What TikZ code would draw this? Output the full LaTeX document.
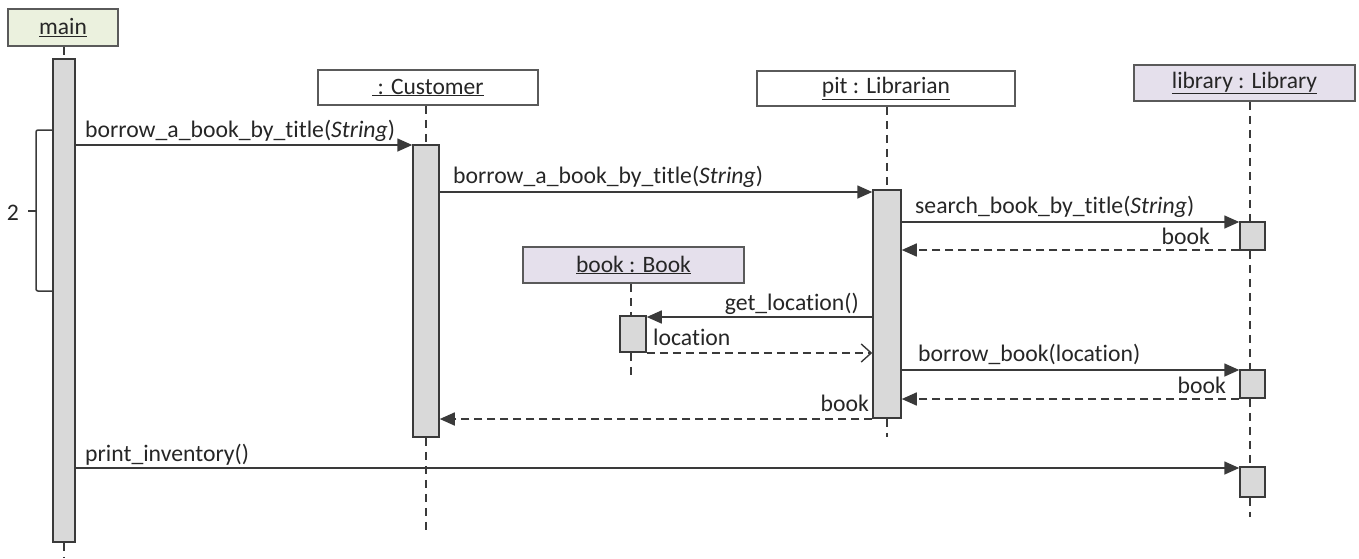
\documentclass[tikz,border=0pt]{standalone}
\usepackage{fontspec}
\setmainfont{Carlito}[Ligatures={NoCommon}]
\usetikzlibrary{arrows.meta}
\definecolor{linec}{HTML}{3A3A3A}
\definecolor{hdrc}{HTML}{5A5A5A}
\definecolor{actc}{HTML}{D9D9D9}
\definecolor{greenc}{HTML}{EBF1DE}
\definecolor{lavc}{HTML}{E5E0EC}
\definecolor{txtc}{HTML}{262626}
\begin{document}
\begin{tikzpicture}[x=1pt,y=-1pt,
  hdr/.style={draw=hdrc, line width=1.5pt, inner sep=0pt, text=txtc, font=\fontsize{23.5}{27}\selectfont},
  act/.style={draw=linec, fill=actc, line width=1.5pt, inner sep=0pt},
  life/.style={draw=linec, line width=1.5pt, dash pattern=on 8pt off 6pt},
  msg/.style={draw=linec, line width=1.6pt, -{Triangle[length=15pt,width=13pt]}},
  ret/.style={msg, dash pattern=on 8pt off 5pt},
  oret/.style={draw=linec, line width=1.6pt, dash pattern=on 8pt off 5pt, -{Straight Barb[length=10pt,width=18pt,line width=1.4pt]}},
  lbl/.style={inner sep=0pt, text=txtc, font=\fontsize{23.7}{27}\selectfont}
]
\useasboundingbox (0,0) rectangle (1359,558);

% headers
\node[hdr, fill=greenc, minimum width=110pt, minimum height=37pt] (hmain) at (63,27.5) {\underline{main}};
\node[hdr, fill=white, minimum width=220pt, minimum height=35pt] (hcust) at (428,87.5) {\underline{\ : Customer}};
\node[hdr, fill=white, minimum width=258pt, minimum height=35pt] (hlib) at (886,88.5) {\underline{pit : Librarian}};
\node[hdr, fill=lavc, minimum width=221pt, minimum height=36pt] (hlry) at (1244.5,83) {\underline{library : Library}};
\node[hdr, fill=lavc, minimum width=221pt, minimum height=36pt] (hbook) at (633.5,265) {\underline{book : Book}};

% activation bars
\node[act, minimum width=22pt, minimum height=483pt] (aM) at (64,300.5) {};
\node[act, minimum width=26pt, minimum height=292pt] (aC) at (426,291) {};
\node[act, minimum width=28pt, minimum height=228pt] (aL) at (887,304) {};
\node[act, minimum width=25pt, minimum height=28pt] (aY1) at (1252.5,236) {};
\node[act, minimum width=25pt, minimum height=28pt] (aY2) at (1252.5,384) {};
\node[act, minimum width=25pt, minimum height=30pt] (aY3) at (1252.5,482) {};
\node[act, minimum width=26pt, minimum height=36pt] (aB) at (633,334) {};

% lifelines
\coordinate (endM) at (64,558);
\coordinate (endC) at (426,535);
\coordinate (endL) at (887,437);
\coordinate (endY) at (1250,517);
\coordinate (endB) at (631,375);
\draw[life] (aM.north |- hmain.south) -- (aM.north);
\draw[life] (aM.south) -- (endM);
\draw[life] (aC.north |- hcust.south) -- (aC.north);
\draw[life] (aC.south) -- (endC);
\draw[life] (aL.north |- hlib.south) -- (aL.north);
\draw[life] (aL.south) -- (endL);
\draw[life] (endY |- hlry.south) -- (endY |- aY1.north);
\draw[life] (endY |- aY1.south) -- (endY |- aY2.north);
\draw[life] (endY |- aY2.south) -- (endY |- aY3.north);
\draw[life] (endY |- aY3.south) -- (endY);
\draw[life] (endB |- hbook.south) -- (endB |- aB.north);
\draw[life] (endB |- aB.south) -- (endB);

% message rows
\coordinate (y1) at (0,145);
\coordinate (y2) at (0,192);
\coordinate (y3) at (0,222);
\coordinate (y4) at (0,250);
\coordinate (y5) at (0,317);
\coordinate (y6) at (0,353);
\coordinate (y7) at (0,370);
\coordinate (y8) at (0,399);
\coordinate (y9) at (0,419);
\coordinate (y10) at (0,468);

\draw[msg] (aM.east |- y1) -- (aC.west |- y1);
\node[lbl, anchor=base west] (l1) at (85,137) {borrow\_a\_book\_by\_title(\textit{String})};
\draw[msg] (aC.east |- y2) -- (aL.west |- y2);
\node[lbl, anchor=base west] (l2) at (453,183) {borrow\_a\_book\_by\_title(\textit{String})};
\draw[msg] (aL.east |- y3) -- (aY1.west |- y3);
\node[lbl, anchor=base west] (l3) at (915,213) {search\_book\_by\_title(\textit{String})};
\draw[ret] (aY1.west |- y4) -- (aL.east |- y4);
\node[lbl, anchor=base east] (l4) at (1210,244) {book};
\draw[msg] (aL.west |- y5) -- (aB.east |- y5);
\node[lbl, anchor=base east] (l5) at (859,310) {get\_location()};
\draw[oret] (aB.east |- y6) -- (aL.west |- y6);
\node[lbl, anchor=base west] (l6) at (653,345) {location};
\draw[msg] (aL.east |- y7) -- (aY2.west |- y7);
\node[lbl, anchor=base west] (l7) at (918,361) {borrow\_book(location)};
\draw[ret] (aY2.west |- y8) -- (aL.east |- y8);
\node[lbl, anchor=base east] (l8) at (1226,393) {book};
\draw[ret] (aL.west |- y9) -- (aC.east |- y9);
\node[lbl, anchor=base east] (l9) at (869,411) {book};
\draw[msg] (aM.east |- y10) -- (aY3.west |- y10);
\node[lbl, anchor=base west] (l10) at (85,461) {print\_inventory()};

% loop bracket
\draw[linec, line width=1.5pt, rounded corners=2pt] (52,130) -- (36,130) -- (36,291) -- (52,291);
\coordinate (bk) at (36,211);
\coordinate (bk2) at (28,211);
\node[lbl, anchor=center] (two) at (13,213) {2};
\draw[linec, line width=1.5pt] (bk) -- (bk2);
\end{tikzpicture}
\end{document}
